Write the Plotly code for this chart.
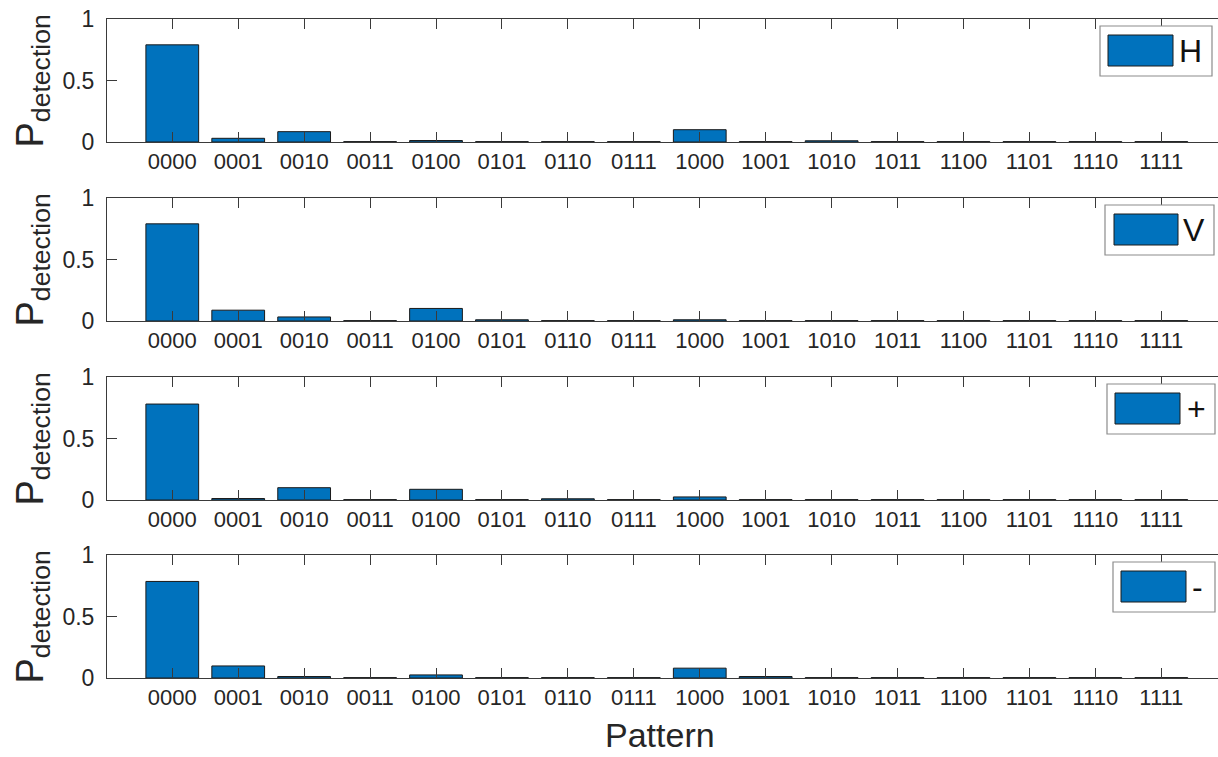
import plotly.graph_objects as go

patterns = ["0000", "0001", "0010", "0011", "0100", "0101", "0110", "0111",
            "1000", "1001", "1010", "1011", "1100", "1101", "1110", "1111"]
p_H = [0.79, 0.03, 0.084, 0.003, 0.012, 0.003, 0.003, 0.003,
       0.10, 0.003, 0.01, 0.003, 0.003, 0.003, 0.003, 0.003]
p_V = [0.79, 0.088, 0.033, 0.003, 0.102, 0.01, 0.003, 0.003,
       0.01, 0.003, 0.003, 0.003, 0.003, 0.003, 0.003, 0.003]
p_plus = [0.78, 0.012, 0.10, 0.003, 0.087, 0.003, 0.01, 0.003,
          0.025, 0.003, 0.003, 0.003, 0.003, 0.003, 0.003, 0.003]
p_minus = [0.785, 0.098, 0.012, 0.003, 0.025, 0.003, 0.003, 0.003,
           0.08, 0.012, 0.003, 0.003, 0.003, 0.003, 0.003, 0.003]
series_names = ["H", "V", "+", "-"]
series_values = [p_H, p_V, p_plus, p_minus]
y_ticks = [0, 0.5, 1]
y_ticktext = ["0", "0.5", "1"]

W, H = 1218, 757
L, R, T, B = 107, 0, 19, 79
PW, PH = W - L - R, H - T - B
FONT = "Liberation Sans, Arial, Helvetica, sans-serif"
BAR = "#0072BD"
AX = "#3a3a3a"

# panel pixel positions (top, bottom)
panels = [(19, 142), (198, 321), (377, 500), (555, 678)]
# legend geometry per panel (box x0, x1, patch x0, x1, text center x)
leg_geo = [(1100, 1212, 1108, 1173, 1190),
           (1105, 1214, 1114, 1178, 1194),
           (1107, 1215, 1115, 1180, 1196),
           (1113, 1215, 1121, 1186, 1197)]


def px_x(x):
    return (x - L) / PW


def px_y(y):
    return (H - B - y) / PH


fig = go.Figure()
shapes = []
annotations = []
for i, (name, vals) in enumerate(zip(series_names, series_values)):
    k = i + 1
    suffix = "" if k == 1 else str(k)
    fig.add_trace(go.Bar(
        x=patterns, y=vals, name=name, showlegend=False,
        marker=dict(color=BAR, line=dict(color="#1a1a1a", width=1)),
        xaxis="x" + suffix, yaxis="y" + suffix,
    ))
    top, bot = panels[i]
    fig.update_layout(**{
        "xaxis" + suffix: dict(
            domain=[0, 1], anchor="y" + suffix, type="category",
            range=[-0.99, 15.86], showline=True, linecolor=AX, linewidth=1,
            mirror="ticks", ticks="inside", ticklen=10, tickcolor=AX,
            tickwidth=1, showgrid=False, zeroline=False, layer="above traces",
            tickfont=dict(family=FONT, size=22, color="#262626"),
            ticklabelstandoff=0,
        ),
        "yaxis" + suffix: dict(
            domain=[px_y(bot), px_y(top)], anchor="x" + suffix,
            range=[0, 1], tickvals=y_ticks, ticktext=y_ticktext,
            showline=True, linecolor=AX, linewidth=1, ticks="inside",
            ticklen=10, tickcolor=AX, tickwidth=1, showgrid=False,
            zeroline=False, layer="above traces",
            tickfont=dict(family=FONT, size=23, color="#262626"),
            ticklabelstandoff=7,
        ),
    })
    # y label
    annotations.append(dict(
        x=px_x(32), y=px_y((top + bot) / 2 + 1), xref="paper", yref="paper",
        text="P<sub>detection</sub>", textangle=-90, showarrow=False,
        xanchor="center", yanchor="middle",
        font=dict(family=FONT, size=38, color="#262626"),
    ))
    # legend box
    bx0, bx1, qx0, qx1, tx = leg_geo[i]
    shapes.append(dict(
        type="rect", xref="paper", yref="paper",
        x0=px_x(bx0), x1=px_x(bx1), y0=px_y(top + 57), y1=px_y(top + 7),
        fillcolor="white", line=dict(color="#8c8c8c", width=1.2), layer="above",
    ))
    shapes.append(dict(
        type="rect", xref="paper", yref="paper",
        x0=px_x(qx0), x1=px_x(qx1), y0=px_y(top + 47), y1=px_y(top + 16),
        fillcolor=BAR, line=dict(color="#1a1a1a", width=1), layer="above",
    ))
    annotations.append(dict(
        x=px_x(tx), y=px_y(top + 32), xref="paper", yref="paper",
        text=name, showarrow=False, xanchor="center", yanchor="middle",
        font=dict(family=FONT, size=32, color="#111111"),
    ))

annotations.append(dict(
    x=px_x(660), y=px_y(735), xref="paper", yref="paper",
    text="Pattern", showarrow=False, xanchor="center", yanchor="middle",
    font=dict(family=FONT, size=34, color="#262626"),
))

fig.update_layout(
    width=W, height=H,
    margin=dict(l=L, r=R, t=T, b=B, autoexpand=False),
    paper_bgcolor="white", plot_bgcolor="white",
    bargap=0.2, showlegend=False,
    shapes=shapes, annotations=annotations,
    font=dict(family=FONT),
)

fig.write_html("out.html")
